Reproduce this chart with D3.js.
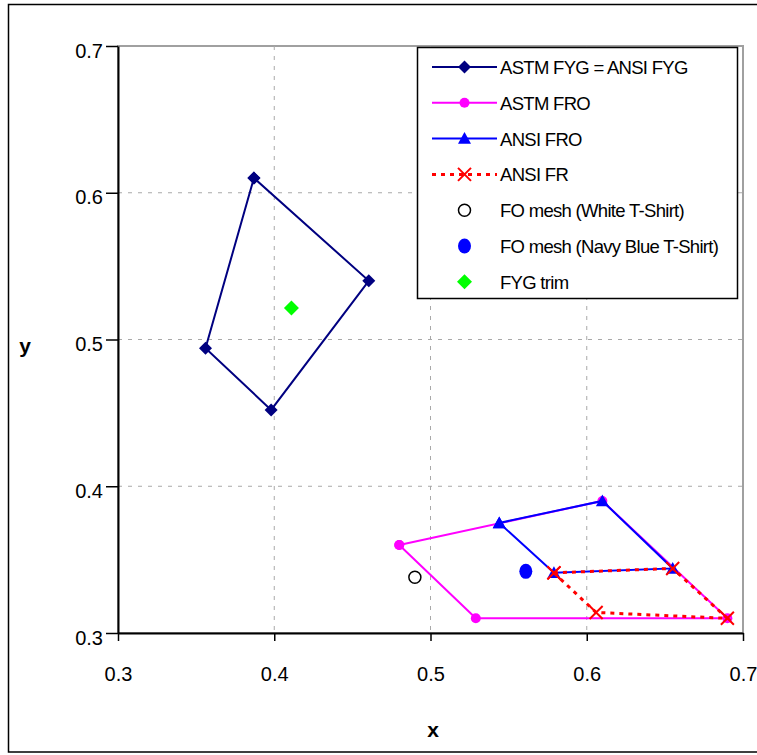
<!DOCTYPE html>
<html><head><meta charset="utf-8">
<script src="https://cdn.jsdelivr.net/npm/d3@7"></script>
<style>body{margin:0;background:#fff;}svg{display:block;font-family:"Liberation Sans",Arial,sans-serif;}</style>
</head><body>
<svg id="chart" width="757" height="755"></svg>
<script>
// Data
const xTicks = [0.3, 0.4, 0.5, 0.6, 0.7];
const yTicks = [0.3, 0.4, 0.5, 0.6, 0.7];
const astmFYG = [[0.387, 0.610], [0.4605, 0.540], [0.398, 0.452], [0.356, 0.494], [0.387, 0.610]];
const astmFRO = [[0.480, 0.360], [0.610, 0.390], [0.690, 0.310], [0.529, 0.310], [0.480, 0.360]];
const ansiFRO = [[0.544, 0.375], [0.610, 0.390], [0.655, 0.344], [0.579, 0.341], [0.544, 0.375]];
const ansiFR = [[0.579, 0.341], [0.655, 0.344], [0.690, 0.310], [0.606, 0.314], [0.579, 0.341]];
const foWhite = [[0.490, 0.338]];
const foNavy = [[0.561, 0.342]];
const fygTrim = [[0.411, 0.5215]];
const legendLabels = ["ASTM FYG = ANSI FYG", "ASTM FRO", "ANSI FRO", "ANSI FR",
  "FO mesh (White T-Shirt)", "FO mesh (Navy Blue T-Shirt)", "FYG trim"];

const svg = d3.select("#chart");
const L = 118, R = 743, T = 46, B = 633;
const x = d3.scaleLinear().domain([0.3, 0.7]).range([L, R]);
const y = d3.scaleLinear().domain([0.3, 0.7]).range([B, T]);

// outer border
svg.append("rect").attr("x", 8.5).attr("y", 4.5).attr("width", 760).attr("height", 747.5)
  .attr("fill", "none").attr("stroke", "#000").attr("stroke-width", 1.5);

// plot area border (gray)
svg.append("rect").attr("x", L).attr("y", T).attr("width", R - L).attr("height", B - T)
  .attr("fill", "none").attr("stroke", "#a0a0a0").attr("stroke-width", 2);

// gridlines
const g = svg.append("g");
xTicks.slice(1, -1).forEach(v => {
  g.append("line").attr("x1", x(v)).attr("x2", x(v)).attr("y1", T).attr("y2", B)
    .attr("stroke", "#a8a8a8").attr("stroke-width", 1).attr("stroke-dasharray", "4,6");
});
yTicks.slice(1, -1).forEach(v => {
  g.append("line").attr("x1", L).attr("x2", R).attr("y1", y(v)).attr("y2", y(v))
    .attr("stroke", "#a8a8a8").attr("stroke-width", 1).attr("stroke-dasharray", "4,6");
});

// axes
const xAxis = d3.axisBottom(x).tickValues(xTicks).tickFormat(d3.format(".1f")).tickSizeInner(8).tickSizeOuter(0).tickPadding(26);
const yAxis = d3.axisLeft(y).tickValues(yTicks).tickFormat(d3.format(".1f")).tickSizeInner(12).tickSizeOuter(0).tickPadding(3);
const gx = svg.append("g").attr("transform", `translate(0,${B})`).call(xAxis);
const gy = svg.append("g").attr("transform", `translate(${L},0)`).call(yAxis);
[gx, gy].forEach(a => {
  a.select(".domain").attr("stroke", "#000").attr("stroke-width", 2);
  a.selectAll(".tick line").attr("stroke", "#000").attr("stroke-width", 1.5);
  a.selectAll(".tick text").attr("font-size", 20).attr("fill", "#000")
    .attr("font-family", "Liberation Sans, Arial, sans-serif");
});
gy.selectAll(".tick text").attr("dy", "0.55em");

// axis titles
svg.append("text").attr("x", 433).attr("y", 737).attr("text-anchor", "middle")
  .attr("font-size", 21).attr("font-weight", "bold").text("x");
svg.append("text").attr("x", 25).attr("y", 353).attr("text-anchor", "middle")
  .attr("font-size", 21).attr("font-weight", "bold").text("y");

const line = d3.line().x(d => x(d[0])).y(d => y(d[1]));

// marker drawing helpers
function diamond(sel, cx, cy, r, color) {
  sel.append("path").attr("d", `M${cx},${cy - r}L${cx + r},${cy}L${cx},${cy + r}L${cx - r},${cy}Z`).attr("fill", color);
}
function circle(sel, cx, cy, r, color, open) {
  sel.append("circle").attr("cx", cx).attr("cy", cy).attr("r", r)
    .attr("fill", open ? "none" : color).attr("stroke", open ? color : "none").attr("stroke-width", 1.5);
}
function triangle(sel, cx, cy, r, color) {
  sel.append("path").attr("d", `M${cx},${cy - r}L${cx + r},${cy + r * 0.8}L${cx - r},${cy + r * 0.8}Z`).attr("fill", color);
}
function cross(sel, cx, cy, r, color) {
  sel.append("path").attr("d", `M${cx - r},${cy - r}L${cx + r},${cy + r}M${cx - r},${cy + r}L${cx + r},${cy - r}`)
    .attr("stroke", color).attr("stroke-width", 2).attr("fill", "none");
}

const series = [
  { data: astmFYG, color: "#000080", dash: null, marker: (s, px, py) => diamond(s, px, py, 6.5, "#000080") },
  { data: astmFRO, color: "#FF00FF", dash: null, marker: (s, px, py) => circle(s, px, py, 5, "#FF00FF") },
  { data: ansiFRO, color: "#0000FF", dash: null, marker: (s, px, py) => triangle(s, px, py, 6.5, "#0000FF") },
  { data: ansiFR, color: "#FF0000", dash: "4,5", marker: (s, px, py) => cross(s, px, py, 6.5, "#FF0000") },
  { data: foWhite, color: null, marker: (s, px, py) => circle(s, px, py, 6, "#000", true) },
  { data: foNavy, color: null, marker: (s, px, py) => { s.append("ellipse").attr("cx", px).attr("cy", py).attr("rx", 6.5).attr("ry", 7.5).attr("fill", "#0000FF"); } },
  { data: fygTrim, color: null, marker: (s, px, py) => diamond(s, px, py, 7.5, "#00FF00") }
];

series.forEach(s => {
  const sg = svg.append("g");
  if (s.color) {
    sg.append("path").datum(s.data).attr("d", line).attr("fill", "none")
      .attr("stroke", s.color).attr("stroke-width", s.dash ? 3 : 2)
      .attr("stroke-dasharray", s.dash);
  }
  s.data.forEach(d => s.marker(sg, x(d[0]), y(d[1])));
});

// legend
const lg = svg.append("g");
lg.append("rect").attr("x", 417.5).attr("y", 47.5).attr("width", 320).attr("height", 251)
  .attr("fill", "#fff").attr("stroke", "#000").attr("stroke-width", 1.5);
const rowY = i => 67 + i * 35.8;
series.forEach((s, i) => {
  const cy = rowY(i);
  if (s.color) {
    lg.append("line").attr("x1", 432).attr("x2", 497).attr("y1", cy).attr("y2", cy)
      .attr("stroke", s.color).attr("stroke-width", s.dash ? 3 : 2).attr("stroke-dasharray", s.dash);
  }
  s.marker(lg, 464.5, cy);
  lg.append("text").attr("x", 500).attr("y", cy + 7).attr("font-size", 18.5)
    .attr("letter-spacing", "-0.7px").attr("fill", "#000").text(legendLabels[i]);
});
</script>
</body></html>
